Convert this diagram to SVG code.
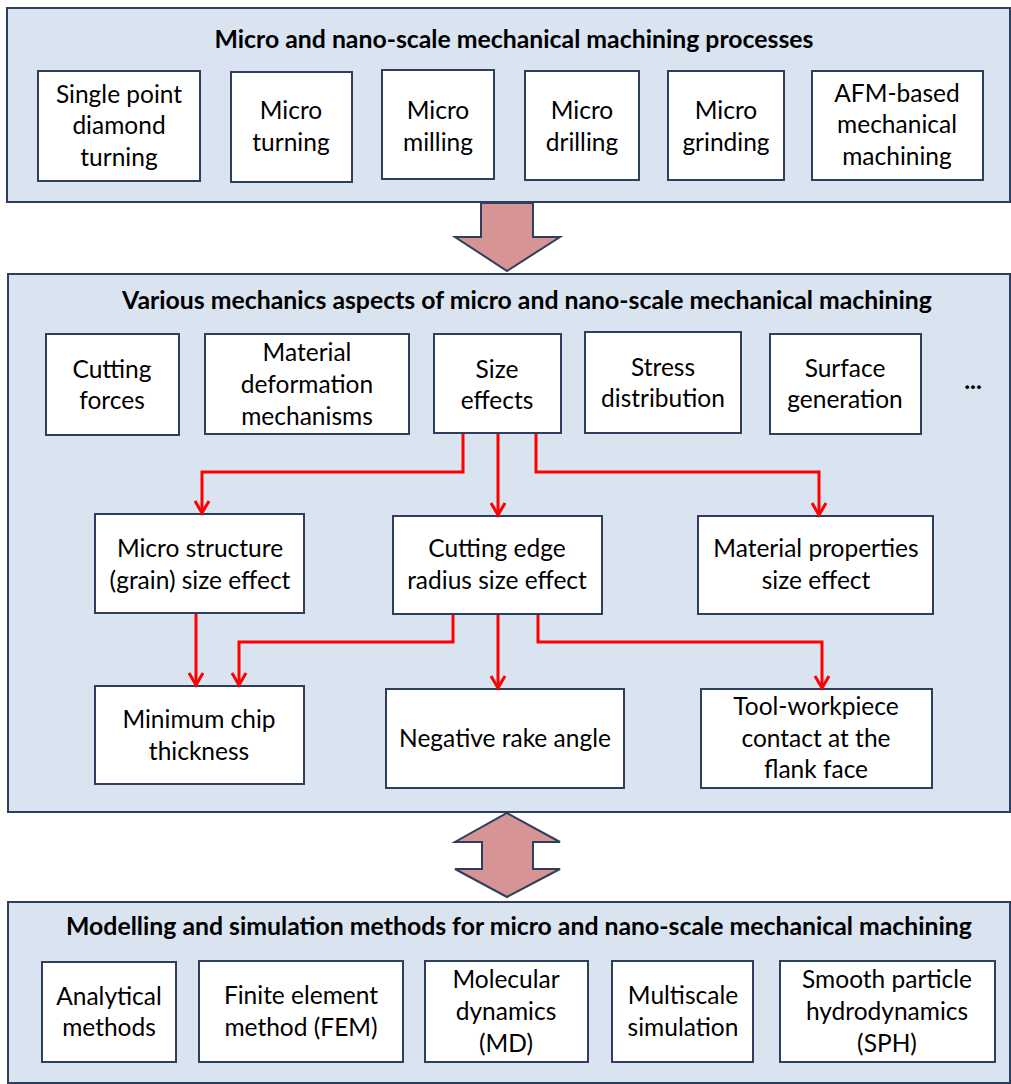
<svg xmlns="http://www.w3.org/2000/svg" width="1011" height="1084" viewBox="0 0 1011 1084">
<defs>
<style>
.panel{fill:#DAE3F0;stroke:#2F3E5C;stroke-width:2}
.box{fill:#FFFFFF;stroke:#2F3E5C;stroke-width:2}
.t{font-family:Lato,"Liberation Sans",sans-serif;font-size:24.5px;fill:#000;text-anchor:middle}
.h{font-family:Lato,"Liberation Sans",sans-serif;font-size:24.8px;font-weight:bold;fill:#000;text-anchor:middle}
.red{fill:none;stroke:#FF0000;stroke-width:3;marker-end:url(#ah)}
.big{fill:#D79494;stroke:#2F3E5C;stroke-width:2}
</style>
<marker id="ah" markerUnits="userSpaceOnUse" markerWidth="20" markerHeight="20" viewBox="-14 -10 16 20" refX="0" refY="0" orient="auto">
<path d="M-12,-7 L0,0 L-12,7" fill="none" stroke="#FF0000" stroke-width="3"/>
</marker>
</defs>
<rect width="1011" height="1084" fill="#FFFFFF"/>

<g id="panel-processes">
<rect class="panel" x="7" y="8" width="1003" height="194"/>
<text class="h" x="514" y="48">Micro and nano-scale mechanical machining processes</text>
</g>
<g id="spdt"><rect class="box" x="38" y="71" width="162" height="110"/><text class="t" x="119" y="103">Single point</text><text class="t" x="119" y="134">diamond</text><text class="t" x="119" y="166">turning</text></g>
<g id="micro-turning"><rect class="box" x="231" y="72" width="121" height="110"/><text class="t" x="291" y="119">Micro</text><text class="t" x="291" y="151">turning</text></g>
<g id="micro-milling"><rect class="box" x="382" y="70" width="112" height="109"/><text class="t" x="438" y="119">Micro</text><text class="t" x="438" y="151">milling</text></g>
<g id="micro-drilling"><rect class="box" x="525" y="71" width="114" height="109"/><text class="t" x="582" y="119">Micro</text><text class="t" x="582" y="151">drilling</text></g>
<g id="micro-grinding"><rect class="box" x="668" y="71" width="116" height="109"/><text class="t" x="726" y="119">Micro</text><text class="t" x="726" y="151">grinding</text></g>
<g id="afm"><rect class="box" x="812" y="71" width="171" height="109"/><text class="t" x="897" y="102">AFM-based</text><text class="t" x="897" y="133">mechanical</text><text class="t" x="897" y="165">machining</text></g>

<g id="panel-mechanics">
<rect class="panel" x="8" y="274" width="1002" height="538"/>
<text class="h" x="527" y="309">Various mechanics aspects of micro and nano-scale mechanical machining</text>
<text class="h" x="973" y="389">...</text>
</g>
<g id="cutting-forces"><rect class="box" x="46" y="334" width="133" height="101"/><text class="t" x="112" y="378">Cutting</text><text class="t" x="112" y="409">forces</text></g>
<g id="material-deformation"><rect class="box" x="205" y="334" width="204" height="100"/><text class="t" x="307" y="361">Material</text><text class="t" x="307" y="393">deformation</text><text class="t" x="307" y="425">mechanisms</text></g>
<g id="size-effects"><rect class="box" x="434" y="334" width="127" height="99"/><text class="t" x="497" y="378">Size</text><text class="t" x="497" y="409">effects</text></g>
<g id="stress-distribution"><rect class="box" x="585" y="332" width="156" height="101"/><text class="t" x="663" y="376">Stress</text><text class="t" x="663" y="407">distribution</text></g>
<g id="surface-generation"><rect class="box" x="770" y="334" width="151" height="100"/><text class="t" x="845" y="377">Surface</text><text class="t" x="845" y="408">generation</text></g>
<g id="grain-size"><rect class="box" x="95" y="514" width="209" height="99"/><text class="t" x="200" y="557">Micro structure</text><text class="t" x="200" y="589">(grain) size effect</text></g>
<g id="edge-radius"><rect class="box" x="393" y="516" width="209" height="98"/><text class="t" x="497" y="557">Cutting edge</text><text class="t" x="497" y="589">radius size effect</text></g>
<g id="material-properties"><rect class="box" x="698" y="516" width="235" height="98"/><text class="t" x="816" y="557">Material properties</text><text class="t" x="816" y="589">size effect</text></g>
<g id="min-chip"><rect class="box" x="95" y="686" width="209" height="98"/><text class="t" x="199" y="728">Minimum chip</text><text class="t" x="199" y="760">thickness</text></g>
<g id="negative-rake"><rect class="box" x="386" y="689" width="238" height="99"/><text class="t" x="505" y="747">Negative rake angle</text></g>
<g id="flank-contact"><rect class="box" x="701" y="689" width="231" height="99"/><text class="t" x="816" y="715">Tool-workpiece</text><text class="t" x="816" y="747">contact at the</text><text class="t" x="816" y="778">flank face</text></g>

<g id="panel-modelling">
<rect class="panel" x="8" y="902" width="1002" height="181"/>
<text class="h" x="519" y="935">Modelling and simulation methods for micro and nano-scale mechanical machining</text>
</g>
<g id="analytical"><rect class="box" x="42" y="962" width="134" height="100"/><text class="t" x="109" y="1005">Analytical</text><text class="t" x="109" y="1036">methods</text></g>
<g id="fem"><rect class="box" x="199" y="961" width="204" height="101"/><text class="t" x="301" y="1004">Finite element</text><text class="t" x="301" y="1036">method (FEM)</text></g>
<g id="md"><rect class="box" x="425" y="961" width="163" height="101"/><text class="t" x="506" y="988">Molecular</text><text class="t" x="506" y="1020">dynamics</text><text class="t" x="506" y="1052">(MD)</text></g>
<g id="multiscale"><rect class="box" x="612" y="961" width="141" height="101"/><text class="t" x="683" y="1004">Multiscale</text><text class="t" x="683" y="1036">simulation</text></g>
<g id="sph"><rect class="box" x="780" y="961" width="215" height="101"/><text class="t" x="887" y="988">Smooth particle</text><text class="t" x="887" y="1020">hydrodynamics</text><text class="t" x="887" y="1052">(SPH)</text></g>

<g id="connectors">
<polygon class="big" points="481,203 533,203 533,237 560,237 507,271 455,237 481,237"/>
<polygon class="big" points="507,813 560,842 533,842 533,869 560,869 507,897 455,869 482,869 482,842 455,842"/>
<path class="red" d="M463,434 V472 H202 V513"/>
<path class="red" d="M498,434 V515"/>
<path class="red" d="M536,434 V472 H819 V515"/>
<path class="red" d="M196,614 V685"/>
<path class="red" d="M453,615 V642 H239 V685"/>
<path class="red" d="M498,615 V688"/>
<path class="red" d="M538,615 V642 H822 V688"/>
</g>
</svg>
